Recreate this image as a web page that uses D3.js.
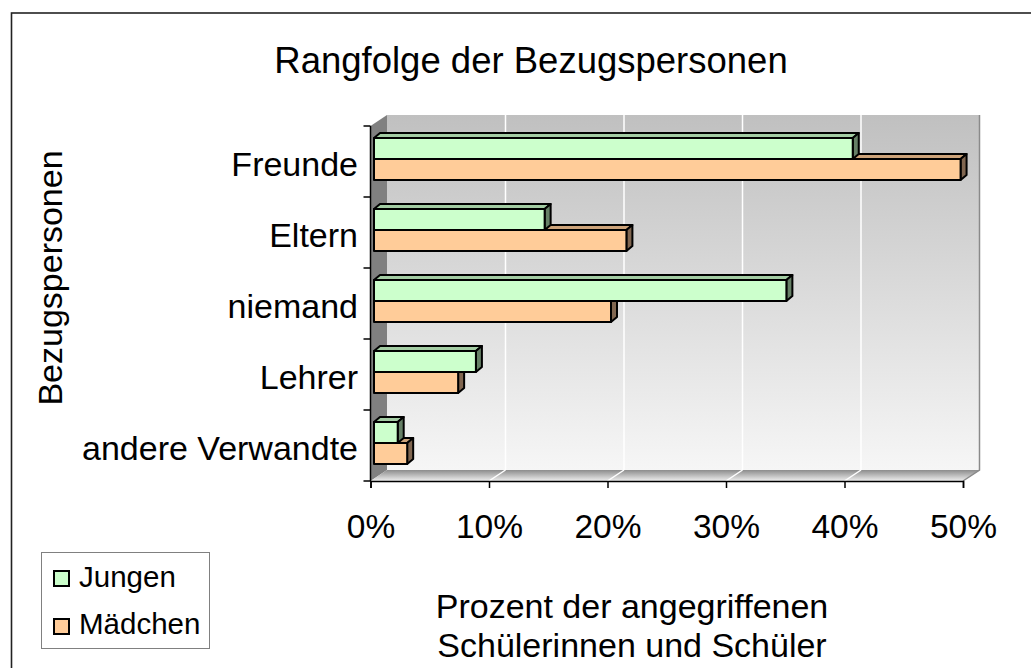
<!DOCTYPE html>
<html>
<head>
<meta charset="utf-8">
<script src="https://cdn.jsdelivr.net/npm/d3@7"></script>
<style>
  html, body { margin: 0; padding: 0; background: #fff; }
  svg { display: block; font-family: "Liberation Sans", Arial, sans-serif; }
</style>
</head>
<body>
<svg id="chart" width="1031" height="668"></svg>
<script>
// ---- data ----
const categories = ["Freunde", "Eltern", "niemand", "Lehrer", "andere Verwandte"];
const seriesNames = ["Jungen", "Mädchen"];
const jungen  = [40.4, 14.4, 34.8, 8.6, 2.0];
const maedchen = [49.5, 21.3, 20.0, 7.1, 2.8];
const xTicks = [0, 10, 20, 30, 40, 50];
const titleText = "Rangfolge der Bezugspersonen";
const yTitle = "Bezugspersonen";
const xTitleLines = ["Prozent der angegriffenen", "Schülerinnen und Schüler"];

// ---- styles ----
const colors = {
  Jungen:  { front: "#CCFFCC", top: "#A3CCA3", side: "#668066" },
  "Mädchen": { front: "#FFCC99", top: "#CCA37A", side: "#806650" }
};

const svg = d3.select("#chart");
const defs = svg.append("defs");

// outer frame
svg.append("rect").attr("x", 11.5).attr("y", 13).attr("width", 1100).attr("height", 1000)
  .attr("fill", "#fff").attr("stroke", "#222").attr("stroke-width", 1.6);

// scales
const x = d3.scaleLinear().domain([0, 50]).range([370.5, 963]);
const y = d3.scaleBand().domain(categories).range([126, 481]).paddingInner(0.408).paddingOuter(0.204);
const ys = d3.scaleBand().domain(seriesNames).range([0, y.bandwidth()]);

const DX = 16.5, DY = -11;   // wall depth
const BX = 3.5, BY = -2.5;   // bar front-face depth shift
const bdx = 6, bdy = -5;     // bar depth

const x0 = x(0), x1 = x(50), yTop = y.range()[0], yBot = y.range()[1];

// gradients
const gBack = defs.append("linearGradient").attr("id", "gBack").attr("x1", 0).attr("y1", 0).attr("x2", 0).attr("y2", 1);
gBack.append("stop").attr("offset", "0%").attr("stop-color", "#c0c0c0");
gBack.append("stop").attr("offset", "100%").attr("stop-color", "#f6f6f6");
const gFloor = defs.append("linearGradient").attr("id", "gFloor").attr("x1", 0).attr("y1", 0).attr("x2", 0).attr("y2", 1);
gFloor.append("stop").attr("offset", "0%").attr("stop-color", "#8c8c8c");
gFloor.append("stop").attr("offset", "100%").attr("stop-color", "#eeeeee");

// back wall
svg.append("rect").attr("x", x0 + DX).attr("y", yTop + DY).attr("width", x1 - x0).attr("height", yBot - yTop)
  .attr("fill", "url(#gBack)");
// side wall
svg.append("polygon")
  .attr("points", [[x0, yTop], [x0 + DX, yTop + DY], [x0 + DX, yBot + DY], [x0, yBot]].map(p => p.join(",")).join(" "))
  .attr("fill", "#808080");
// floor
svg.append("polygon")
  .attr("points", [[x0, yBot], [x0 + DX, yBot + DY], [x1 + DX, yBot + DY], [x1, yBot]].map(p => p.join(",")).join(" "))
  .attr("fill", "url(#gFloor)");
// right edge of back wall + floor
svg.append("path")
  .attr("d", `M${x1 + DX},${yTop + DY}V${yBot + DY}L${x1},${yBot}`)
  .attr("fill", "none").attr("stroke", "#8a8a8a").attr("stroke-width", 1.5);

// gridlines
const grid = xTicks.filter(d => d > 0 && d < 50);
svg.append("g").selectAll("line").data(grid).join("line")
  .attr("x1", d => x(d) + DX).attr("x2", d => x(d) + DX)
  .attr("y1", yTop + DY).attr("y2", yBot + DY)
  .attr("stroke", "#fff").attr("stroke-width", 1.5);
svg.append("g").selectAll("line").data(grid).join("line")
  .attr("x1", d => x(d)).attr("x2", d => x(d) + DX)
  .attr("y1", yBot).attr("y2", yBot + DY)
  .attr("stroke", "#fff").attr("stroke-width", 1.5);

// bars
const rows = categories.map((c, i) => ({ cat: c, vals: { "Jungen": jungen[i], "Mädchen": maedchen[i] } }));
const barsG = svg.append("g").attr("stroke", "#000").attr("stroke-width", 2).attr("stroke-linejoin", "round");
rows.forEach(r => {
  ["Mädchen", "Jungen"].forEach(s => {
    const v = r.vals[s];
    const xa = x(0) + BX, xb = x(v) + BX;
    const ya = y(r.cat) + ys(s) + BY, yb = ya + ys.bandwidth();
    const c = colors[s];
    const g = barsG.append("g");
    g.append("polygon").attr("fill", c.top)
      .attr("points", [[xa, ya], [xa + bdx, ya + bdy], [xb + bdx, ya + bdy], [xb, ya]].map(p => p.join(",")).join(" "));
    g.append("polygon").attr("fill", c.side)
      .attr("points", [[xb, ya], [xb + bdx, ya + bdy], [xb + bdx, yb + bdy], [xb, yb]].map(p => p.join(",")).join(" "));
    g.append("rect").attr("fill", c.front)
      .attr("x", xa).attr("y", ya).attr("width", xb - xa).attr("height", yb - ya);
  });
});

// x axis
const xAxis = d3.axisBottom(x).tickValues(xTicks).tickFormat(d => d + "%").tickSize(7).tickPadding(26);
const gx = svg.append("g").attr("transform", `translate(0,${yBot})`).call(xAxis);
gx.select(".domain").attr("stroke", "#000").attr("stroke-width", 1.5);
gx.selectAll(".tick line").attr("stroke", "#000").attr("stroke-width", 1.5);
gx.selectAll("text").attr("font-size", 33.5).attr("fill", "#000")
  .attr("font-family", "'Liberation Sans', Arial, sans-serif");

// y axis (labels at band centres, ticks at band boundaries)
const yAxis = d3.axisLeft(y).tickSize(0).tickPadding(12.5);
const gy = svg.append("g").attr("transform", `translate(${x0},0)`).call(yAxis);
gy.select(".domain").remove();
gy.selectAll("text").attr("font-size", 34).attr("fill", "#000").attr("dy", "0.44em")
  .attr("font-family", "'Liberation Sans', Arial, sans-serif");
const bounds = d3.range(categories.length + 1).map(i => yTop + i * y.step());
svg.append("line").attr("x1", x0).attr("x2", x0).attr("y1", yTop).attr("y2", yBot)
  .attr("stroke", "#000").attr("stroke-width", 1.5);
svg.append("g").selectAll("line").data(bounds).join("line")
  .attr("x1", x0 - 7).attr("x2", x0).attr("y1", d => d).attr("y2", d => d)
  .attr("stroke", "#000").attr("stroke-width", 1.5);

// titles
svg.append("text").attr("x", 531).attr("y", 73).attr("text-anchor", "middle")
  .attr("font-size", 36.5).text(titleText);
svg.append("text").attr("transform", "translate(62,278) rotate(-90)").attr("text-anchor", "middle")
  .attr("font-size", 34).text(yTitle);
svg.append("g").selectAll("text").data(xTitleLines).join("text")
  .attr("x", 632).attr("y", (d, i) => 618 + i * 39).attr("text-anchor", "middle")
  .attr("font-size", 34).text(d => d);

// legend
const leg = svg.append("g");
leg.append("rect").attr("x", 41.5).attr("y", 552.5).attr("width", 168).attr("height", 96)
  .attr("fill", "#fff").attr("stroke", "#808080").attr("stroke-width", 1);
seriesNames.forEach((s, i) => {
  leg.append("rect").attr("x", 54).attr("y", 571 + i * 48).attr("width", 15).attr("height", 15)
    .attr("fill", colors[s].front).attr("stroke", "#000").attr("stroke-width", 2);
  leg.append("text").attr("x", 79).attr("y", 587 + i * 47).attr("font-size", 29.5).text(s);
});
</script>
</body>
</html>
